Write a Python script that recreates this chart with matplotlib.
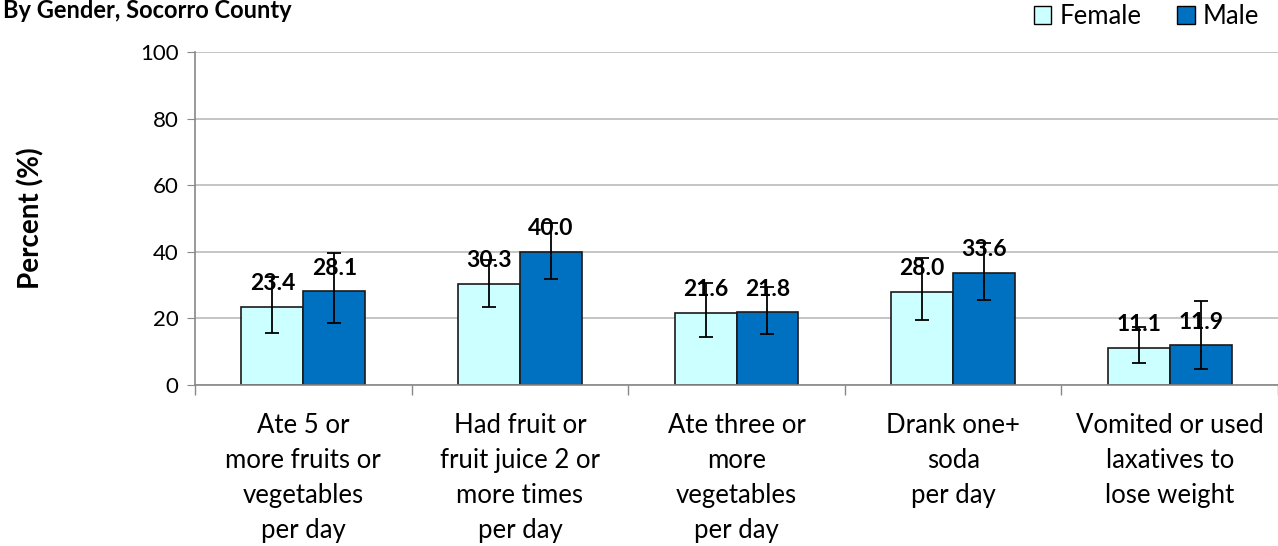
import numpy as np
import matplotlib
matplotlib.use("Agg")
import matplotlib.pyplot as plt
from matplotlib.patches import Patch
from matplotlib import font_manager as fm

# pick a Calibri-like face that really has a bold cut
bold_family = "DejaVu Sans"
for fam in ["Lato", "Open Sans", "Noto Sans", "Roboto", "Liberation Sans"]:
    try:
        path = fm.findfont(fm.FontProperties(family=fam, weight="bold"),
                           fallback_to_default=False)
    except Exception:
        continue
    if "bold" in path.lower():
        bold_family = fam
        break

plt.rcParams['font.family'] = ['Lato', 'DejaVu Sans']

categories = [
    "Ate 5 or\nmore fruits or\nvegetables\nper day",
    "Had fruit or\nfruit juice 2 or\nmore times\nper day",
    "Ate three or\nmore\nvegetables\nper day",
    "Drank one+\nsoda\nper day",
    "Vomited or used\nlaxatives to\nlose weight",
]
female = [23.4, 30.3, 21.6, 28.0, 11.1]
female_lo = [15.7, 23.5, 14.3, 19.5, 6.5]
female_hi = [32.5, 37.5, 30.5, 38.0, 17.5]
male = [28.1, 40.0, 21.8, 33.6, 11.9]
male_lo = [18.6, 31.8, 15.3, 25.6, 4.7]
male_hi = [39.5, 48.5, 29.3, 42.5, 25.3]

c_female = "#CCFFFF"
c_male = "#0070C0"

fig = plt.figure(figsize=(12.78, 5.46), dpi=100)
ax = fig.add_axes([0.1526, 0.2949, 0.8474, 0.6099])

x = np.arange(len(categories))
w = 0.286

for vals, lo, hi, off, col in [(female, female_lo, female_hi, -w / 2, c_female),
                              (male, male_lo, male_hi, w / 2, c_male)]:
    vals = np.array(vals)
    err = [vals - np.array(lo), np.array(hi) - vals]
    ax.bar(x + off, vals, w, color=col, edgecolor="#1a1a1a", linewidth=1.2, zorder=2)
    ax.errorbar(x + off, vals, yerr=err, fmt="none", ecolor="black",
                elinewidth=1.3, capsize=5, capthick=1.3, zorder=3)
    for xi, v in zip(x + off, vals):
        ax.text(xi, v + 7.0, f"{v:.1f}", ha="center", va="center",
                fontsize=16.5, fontweight="bold", family=bold_family, zorder=4)

ax.set_xlim(-0.5, len(categories) - 0.5)
ax.set_ylim(0, 100)
ax.set_yticks(np.arange(0, 101, 20))
ax.tick_params(axis="y", labelsize=16, length=6, color="#888888", pad=6)
ax.yaxis.grid(True, color="#BBBBBB", linewidth=1.2, zorder=0)
ax.set_axisbelow(True)

ax.set_xticks(x)
ax.set_xticklabels(categories, fontsize=18.5, linespacing=1.5)
ax.tick_params(axis="x", length=0, pad=20)
ax.set_xticks(np.arange(-0.5, len(categories) + 0.5, 1), minor=True)
ax.tick_params(axis="x", which="minor", length=7, color="#888888", width=1)

for s in ["top", "right"]:
    ax.spines[s].set_visible(False)
for s in ["left", "bottom"]:
    ax.spines[s].set_color("#888888")
    ax.spines[s].set_linewidth(1.2)

ax.set_ylabel("Percent (%)", fontsize=20, fontweight="bold", family=bold_family)
ax.yaxis.set_label_coords(-0.139, 0.5)

fig.text(0.002, 1 - 18 / 546, "By Gender, Socorro County", fontsize=17,
         fontweight="bold", family=bold_family, ha="left", va="baseline")

handles = [Patch(facecolor=c_female, edgecolor="black", label="Female"),
           Patch(facecolor=c_male, edgecolor="black", label="Male")]
fig.legend(handles=handles, loc="upper right", bbox_to_anchor=(1.003, 1.035), ncol=2,
           frameon=False, fontsize=18.5, handlelength=0.68, handleheight=0.68,
           handletextpad=0.3, columnspacing=1.4)

fig.savefig("out.png", dpi=100)
